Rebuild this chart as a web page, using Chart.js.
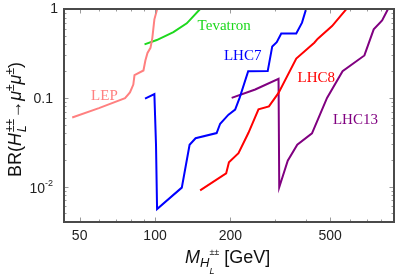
<!DOCTYPE html>
<html>
<head>
<meta charset="utf-8">
<script src="https://cdn.jsdelivr.net/npm/chart.js@4"></script>
<style>
  html, body { margin: 0; padding: 0; background: #fff; }
  #wrap { width: 399px; height: 276px; }
</style>
</head>
<body>
<div id="wrap"><canvas id="brLimits" width="399" height="276"></canvas></div>
<script>
// --- Data (mass in GeV, branching ratio) ---
var lepMass = [46.7, 59.7, 75.9, 79.4, 81.9, 82.8, 89.9, 91.5, 93.3, 95.9, 97.5, 99.4, 102.3];
var lepBR   = [0.060, 0.0765, 0.099, 0.115, 0.141, 0.180, 0.203, 0.263, 0.320, 0.365, 0.467, 0.765, 1.03];

var tevMass = [90.8, 101.6, 118.4, 133.9, 151.4];
var tevBR   = [0.40, 0.447, 0.55, 0.69, 1.0];

var lhc7Mass = [91.2, 99.4, 100.9, 101.9, 127.9, 137.4, 145.2, 176.2, 182, 196.5, 208.9, 217.8, 235.5, 281.8, 293.8, 306.2, 319.2, 366.4, 386.3, 402];
var lhc7BR   = [0.098, 0.110, 0.0296, 0.0056, 0.00975, 0.0296, 0.0351, 0.0401, 0.0511, 0.0646, 0.0736, 0.1005, 0.199, 0.200, 0.379, 0.424, 0.531, 0.531, 0.702, 1.02];

var lhc8Mass = [151.4, 192.3, 197.3, 215.4, 236.1, 258.9, 285, 311.3, 366.4, 432.5, 446.7, 509.2, 584.6];
var lhc8BR   = [0.00906, 0.0141, 0.0188, 0.0238, 0.0404, 0.0741, 0.0802, 0.1136, 0.277, 0.417, 0.463, 0.643, 1.02];

var lhc13Mass = [202.3, 251.2, 311.3, 313.3, 338.8, 369.8, 423.4, 486.2, 560.9, 685.5, 746.8, 806.9, 855];
var lhc13BR   = [0.0998, 0.124, 0.164, 0.00985, 0.0196, 0.0296, 0.0398, 0.0998, 0.199, 0.300, 0.590, 0.745, 1.02];

// curve labels: text, mass, BR
var curveLabels = ['LEP', 'Tevatron', 'LHC7', 'LHC8', 'LHC13'];
var labelMass = [62.8, 188.8, 223.9, 440.6, 631];
var labelBR = [0.1087, 0.654, 0.300, 0.172, 0.0578];

// ticks
var xMajorTicks = [50, 100, 200, 500];
var xMinorTicks = [60, 70, 80, 90, 300, 400, 600, 700, 800];
var yMajorTicks = [0.01, 0.1, 1];
var yMinorTicks = [0.005, 0.006, 0.007, 0.008, 0.009, 0.02, 0.03, 0.04, 0.05, 0.06, 0.07, 0.08, 0.09,
                   0.2, 0.3, 0.4, 0.5, 0.6, 0.7, 0.8, 0.9];

// --- Colors ---
var pink = '#ff8080';
var green = '#1ed81e';
var blue = '#0000ff';
var red = '#ff0000';
var purple = '#800080';
var labelColors = [pink, green, blue, red, purple];
var frameColor = '#4a4a4a';
var tickColor = '#9a9a9a';
var sans = "'Liberation Sans', Arial, sans-serif";

function series(label, xs, ys, color) {
  return {
    label: label,
    data: xs.map(function (m, i) { return { x: m, y: ys[i] }; }),
    borderColor: color,
    borderWidth: 2,
    pointRadius: 0,
    fill: false,
    tension: 0
  };
}

function fontOf(p) {
  return (p.it ? 'italic ' : '') + p.s + 'px ' + sans;
}

// rich text: parts with size, italic, baseline shift; "keep" stacks the next part on top
function drawRich(ctx, parts, x, y) {
  var cx = x, held = 0;
  parts.forEach(function (p) {
    ctx.font = fontOf(p);
    ctx.fillText(p.t, cx + (p.dx || 0), y + (p.dy || 0));
    var pw = ctx.measureText(p.t).width + (p.gap || 0);
    if (p.keep) { held = Math.max(held, pw); }
    else { cx += Math.max(held, pw); held = 0; }
  });
  return cx - x;
}
function richWidth(ctx, parts) {
  var w = 0, held = 0;
  parts.forEach(function (p) {
    ctx.font = fontOf(p);
    var pw = ctx.measureText(p.t).width + (p.gap || 0);
    if (p.keep) { held = Math.max(held, pw); }
    else { w += Math.max(held, pw); held = 0; }
  });
  return w + held;
}

var yTitle = [
  { t: 'BR(', s: 18 },
  { t: 'H', s: 18, it: true, gap: 1 },
  { t: '\u00b1\u00b1', s: 12, dy: -7, keep: true },
  { t: 'L', s: 12, it: true, dy: 5 },
  { t: '\u2192', s: 18 },
  { t: '\u03bc', s: 18, it: true },
  { t: '\u00b1', s: 12, dy: -7 },
  { t: '\u03bc', s: 18, it: true },
  { t: '\u00b1', s: 12, dy: -7 },
  { t: ')', s: 18 }
];
var xTitle = [
  { t: 'M', s: 18, it: true },
  { t: 'H', s: 13, it: true, dy: 4 },
  { t: '\u00b1\u00b1', s: 9, dy: -8, keep: true },
  { t: 'L', s: 9, it: true, dy: 11 },
  { t: ' [GeV]', s: 18 }
];

var framePlugin = {
  id: 'frameAndText',
  afterDatasetsDraw: function (chart) {
    var ctx = chart.ctx;
    var a = chart.chartArea;
    var xs = chart.scales.x, ys = chart.scales.y;
    ctx.save();

    // ticks on all four sides, pointing inward
    ctx.strokeStyle = tickColor;
    ctx.lineWidth = 1;
    function xTick(v, len) {
      var px = Math.round(xs.getPixelForValue(v)) + 0.5;
      ctx.beginPath();
      ctx.moveTo(px, a.bottom); ctx.lineTo(px, a.bottom - len);
      ctx.moveTo(px, a.top); ctx.lineTo(px, a.top + len);
      ctx.stroke();
    }
    function yTick(v, len) {
      var py = Math.round(ys.getPixelForValue(v)) + 0.5;
      ctx.beginPath();
      ctx.moveTo(a.left, py); ctx.lineTo(a.left + len, py);
      ctx.moveTo(a.right, py); ctx.lineTo(a.right - len, py);
      ctx.stroke();
    }
    xMajorTicks.forEach(function (v) { xTick(v, 4.5); });
    xMinorTicks.forEach(function (v) { xTick(v, 2.5); });
    yMajorTicks.forEach(function (v) { yTick(v, 4.5); });
    yMinorTicks.forEach(function (v) { yTick(v, 2.5); });

    // frame
    ctx.strokeStyle = frameColor;
    ctx.lineWidth = 2;
    ctx.strokeRect(a.left, a.top, a.right - a.left, a.bottom - a.top);

    // tick labels
    ctx.fillStyle = '#222';
    ctx.font = '14px ' + sans;
    ctx.textBaseline = 'middle';
    ctx.textAlign = 'center';
    xMajorTicks.forEach(function (v) {
      ctx.fillText(String(v), xs.getPixelForValue(v), a.bottom + 14);
    });
    ctx.textAlign = 'right';
    var py = ys.getPixelForValue(1);
    ctx.fillText('1', a.left - 6, py);
    py = ys.getPixelForValue(0.1);
    ctx.fillText('0.1', a.left - 11, py + 1);
    py = ys.getPixelForValue(0.01);
    ctx.font = '9px ' + sans;
    ctx.fillText('-2', a.left - 11, py - 3);
    var supW = ctx.measureText('-2').width;
    ctx.font = '14px ' + sans;
    ctx.fillText('10', a.left - 11 - supW, py + 2);

    // curve labels
    ctx.font = '15px "Liberation Serif", "Times New Roman", serif';
    ctx.textAlign = 'center';
    ctx.textBaseline = 'alphabetic';
    curveLabels.forEach(function (txt, i) {
      ctx.fillStyle = labelColors[i];
      ctx.fillText(txt, xs.getPixelForValue(labelMass[i]), ys.getPixelForValue(labelBR[i]) + 5);
    });

    // axis titles
    ctx.fillStyle = '#111';
    ctx.textAlign = 'left';
    drawRich(ctx, xTitle, 185, 263);

    ctx.translate(21, 119.5);
    ctx.rotate(-Math.PI / 2);
    var w = richWidth(ctx, yTitle);
    drawRich(ctx, yTitle, -w / 2, 0);

    ctx.restore();
  }
};

new Chart(document.getElementById('brLimits').getContext('2d'), {
  type: 'line',
  data: {
    datasets: [
      series('LEP', lepMass, lepBR, pink),
      series('Tevatron', tevMass, tevBR, green),
      series('LHC7', lhc7Mass, lhc7BR, blue),
      series('LHC8', lhc8Mass, lhc8BR, red),
      series('LHC13', lhc13Mass, lhc13BR, purple)
    ]
  },
  options: {
    responsive: false,
    animation: false,
    layout: { padding: { left: 64, top: 9, right: 5, bottom: 54 } },
    scales: {
      x: { type: 'logarithmic', min: 43.3, max: 900, display: false },
      y: { type: 'logarithmic', min: 0.004, max: 1, display: false }
    },
    plugins: {
      legend: { display: false },
      tooltip: { enabled: false }
    }
  },
  plugins: [framePlugin]
});
</script>
</body>
</html>
